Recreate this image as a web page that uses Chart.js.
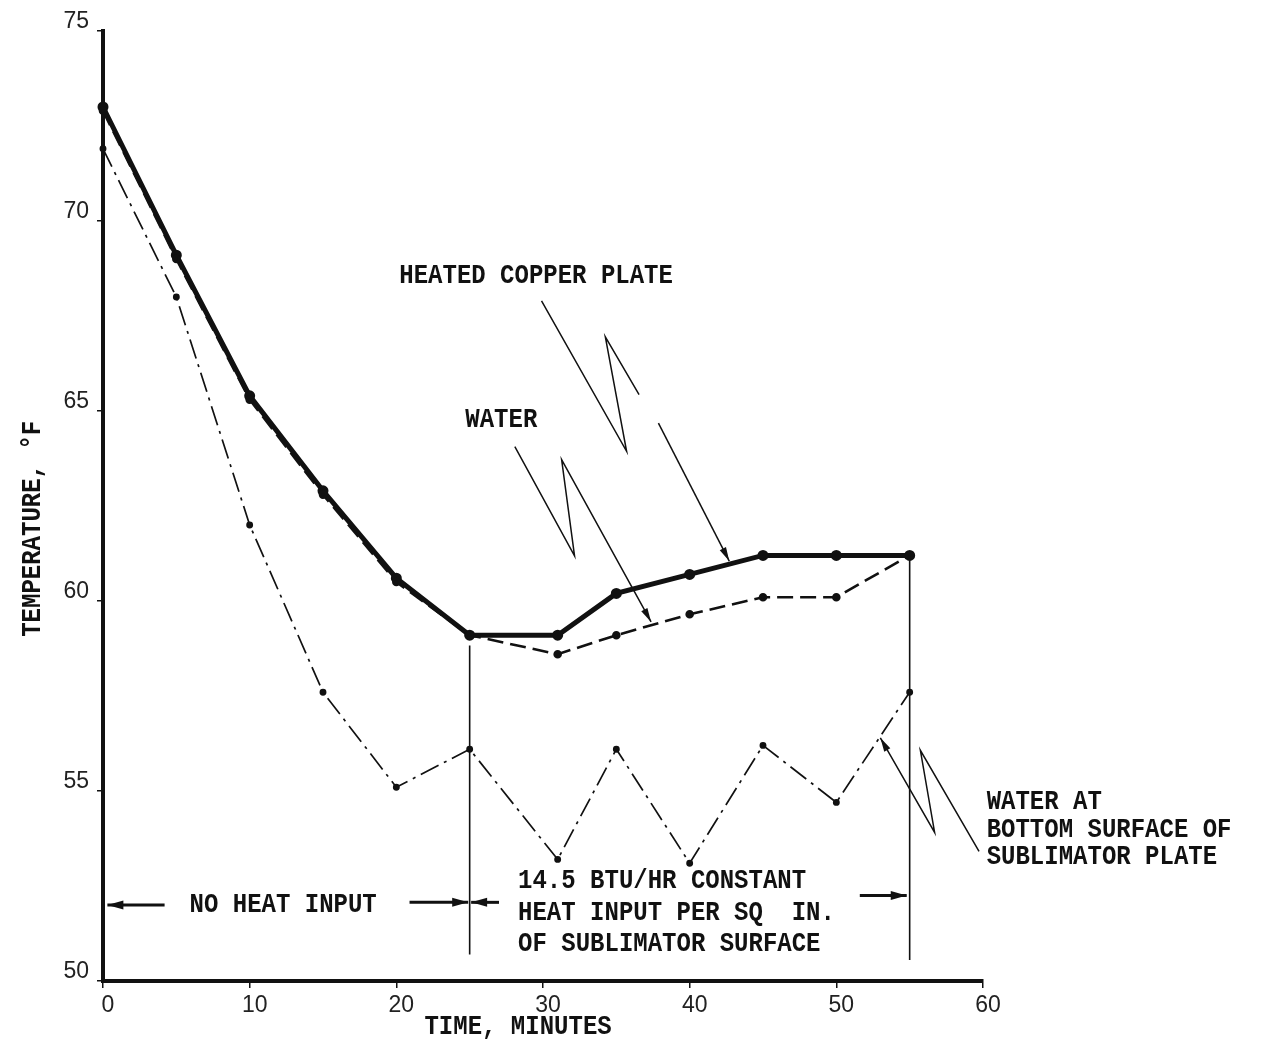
<!DOCTYPE html>
<html>
<head>
<meta charset="utf-8">
<script src="https://cdn.jsdelivr.net/npm/chart.js@4.4.1/dist/chart.umd.min.js"></script>
<style>
  html, body { margin: 0; padding: 0; background: #fff; }
  #wrap { width: 1266px; height: 1059px; }
</style>
</head>
<body>
<div id="wrap"><canvas id="tempChart"></canvas></div>
<script>
/* DATA (minutes, deg F) */
const times = [0, 5, 10, 15, 20, 25, 31, 35, 40, 45, 50, 55];
const copperPlate = [73.0, 69.1, 65.4, 62.9, 60.6, 59.1, 59.1, 60.2, 60.7, 61.2, 61.2, 61.2];
const water = [72.9, 69.0, 65.3, 62.8, 60.5, 59.1, 58.6, 59.1, 59.65, 60.1, 60.1, 61.2];
const waterBottom = [71.9, 68.0, 62.0, 57.6, 55.1, 56.1, 53.2, 56.1, 53.1, 56.2, 54.7, 57.6];

const xTicks = [0, 10, 20, 30, 40, 50, 60];
const yTicks = [50, 55, 60, 65, 70, 75];

/* ANNOTATIONS (data units) */
const heatMarkers = [[25, 58.83, 50.7], [55, 61.2, 50.55]];
const heatArrows = [
  [[4.2, 52.0], [0.3, 52.0]],
  [[20.9, 52.07], [24.9, 52.07]],
  [[27.0, 52.07], [25.1, 52.07]],
  [[51.6, 52.25], [54.8, 52.25]]
];
const leaderCopper = [[29.9, 67.9], [35.7, 63.94], [34.25, 66.95], [36.55, 65.43]];
const leaderCopperTip = [[37.87, 64.68], [42.7, 61.05]];
const leaderWater = [[28.08, 64.06], [32.15, 61.19], [31.27, 63.72], [37.37, 59.45]];
const leaderBottom = [[59.73, 53.41], [55.73, 56.07], [56.7, 53.91], [53.0, 56.4]];

const labels = [
  { text: "HEATED COPPER PLATE", t: 20.2, v: 68.55 },
  { text: "WATER", t: 24.7, v: 64.75 },
  { text: "WATER AT", t: 60.25, v: 54.70 },
  { text: "BOTTOM SURFACE OF", t: 60.25, v: 53.98 },
  { text: "SUBLIMATOR PLATE", t: 60.25, v: 53.26 },
  { text: "NO HEAT INPUT", t: 5.9, v: 51.99 },
  { text: "14.5 BTU/HR CONSTANT", t: 28.3, v: 52.64 },
  { text: "HEAT INPUT PER SQ  IN.", t: 28.3, v: 51.80 },
  { text: "OF SUBLIMATOR SURFACE", t: 28.3, v: 50.98 }
];

const TYPE_FONT = '"Liberation Mono", "Courier New", monospace';
const INK = "#111";

function toPoints(xs, ys) {
  return xs.map((t, i) => ({ x: t, y: ys[i] }));
}

/* draw helpers */
function polyline(ctx, pts) {
  ctx.beginPath();
  pts.forEach((p, i) => i ? ctx.lineTo(p[0], p[1]) : ctx.moveTo(p[0], p[1]));
  ctx.stroke();
}

function arrowHead(ctx, from, to, len, half) {
  const a = Math.atan2(to[1] - from[1], to[0] - from[0]);
  ctx.beginPath();
  ctx.moveTo(to[0], to[1]);
  ctx.lineTo(to[0] - len * Math.cos(a) + half * Math.sin(a), to[1] - len * Math.sin(a) - half * Math.cos(a));
  ctx.lineTo(to[0] - len * Math.cos(a) - half * Math.sin(a), to[1] - len * Math.sin(a) + half * Math.cos(a));
  ctx.closePath();
  ctx.fill();
}

// typewriter text, a bit taller than the stock font
function typeText(ctx, text, x, y, rot) {
  ctx.save();
  ctx.translate(x, y);
  if (rot) ctx.rotate(rot);
  ctx.scale(1, 1.15);
  ctx.fillText(text, 0, 0);
  ctx.restore();
}

const annotate = {
  id: "annotate",
  afterDatasetsDraw(chart) {
    const { ctx, scales: { x, y } } = chart;
    const px = p => [x.getPixelForValue(p[0]), y.getPixelForValue(p[1])];
    ctx.save();
    ctx.strokeStyle = INK;
    ctx.fillStyle = INK;
    ctx.setLineDash([]);

    // heat input boundaries
    ctx.lineWidth = 1.6;
    heatMarkers.forEach(m => polyline(ctx, [px([m[0], m[1]]), px([m[0], m[2]])]));

    // heat input arrows
    ctx.lineWidth = 3;
    heatArrows.forEach(a => {
      const p = a.map(px);
      polyline(ctx, p);
      arrowHead(ctx, p[0], p[1], 16, 4.5);
    });

    // leader lines with break symbols
    ctx.lineWidth = 1.5;
    polyline(ctx, leaderCopper.map(px));
    const ct = leaderCopperTip.map(px);
    polyline(ctx, ct);
    arrowHead(ctx, ct[0], ct[1], 14, 3.5);

    const lw = leaderWater.map(px);
    polyline(ctx, lw);
    arrowHead(ctx, lw[2], lw[3], 14, 3.5);

    const lb = leaderBottom.map(px);
    polyline(ctx, lb);
    arrowHead(ctx, lb[2], lb[3], 14, 3.5);

    // text
    ctx.font = "bold 24px " + TYPE_FONT;
    ctx.textBaseline = "middle";
    ctx.textAlign = "left";
    labels.forEach(l => {
      const p = px([l.t, l.v]);
      typeText(ctx, l.text, p[0], p[1]);
    });

    // axis titles
    ctx.textAlign = "center";
    typeText(ctx, "TIME, MINUTES", x.getPixelForValue(28.3), chart.chartArea.bottom + 46);
    typeText(ctx, "TEMPERATURE, \u00B0F", chart.chartArea.left - 70, y.getPixelForValue(61.9), -Math.PI / 2);
    ctx.restore();
  }
};

const tickFont = { family: '"Liberation Sans", Arial, sans-serif', size: 23 };

const chart = new Chart(document.getElementById("tempChart"), {
  type: "line",
  data: {
    datasets: [
      {
        label: "Water at bottom surface of sublimator plate",
        data: toPoints(times, waterBottom),
        borderColor: INK,
        backgroundColor: INK,
        borderWidth: 1.7,
        borderDash: [20, 6, 3, 6],
        pointRadius: 2.6,
        clip: false
      },
      {
        label: "Water",
        data: toPoints(times, water),
        borderColor: INK,
        backgroundColor: INK,
        borderWidth: 2.6,
        borderDash: [16, 7],
        pointRadius: 3,
        clip: false
      },
      {
        label: "Heated copper plate",
        data: toPoints(times, copperPlate),
        borderColor: INK,
        backgroundColor: INK,
        borderWidth: 5,
        pointRadius: 3,
        clip: false
      }
    ]
  },
  options: {
    responsive: true,
    maintainAspectRatio: false,
    animation: false,
    layout: { padding: { top: 31, right: 283, bottom: 0, left: 0 } },
    plugins: { legend: { display: false }, tooltip: { enabled: false } },
    scales: {
      x: {
        type: "linear",
        min: 0,
        max: 60,
        afterFit: s => { s.height = 78; },
        afterBuildTicks: s => { s.ticks = xTicks.map(v => ({ value: v })); },
        border: { display: true, color: INK, width: 4 },
        grid: { drawOnChartArea: false, drawTicks: true, tickLength: 7, color: INK, lineWidth: 1.5 },
        ticks: { color: "#222", font: tickFont, padding: 4, labelOffset: 5, maxRotation: 0 }
      },
      y: {
        min: 50,
        max: 75,
        afterFit: s => { s.width = 103; },
        afterBuildTicks: s => { s.ticks = yTicks.map(v => ({ value: v })); },
        border: { display: true, color: INK, width: 4 },
        grid: { drawOnChartArea: false, drawTicks: true, tickLength: 6, color: INK, lineWidth: 1.5 },
        ticks: { color: "#222", font: tickFont, padding: 8, labelOffset: -9 }
      }
    }
  },
  plugins: [annotate]
});
</script>
</body>
</html>
